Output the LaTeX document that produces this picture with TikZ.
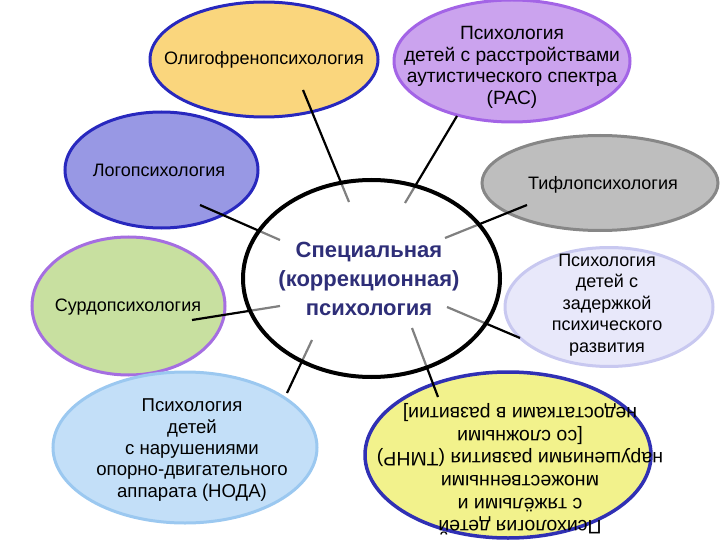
\documentclass[tikz,border=0pt]{standalone}
\usepackage{fontspec}
\setmainfont{Liberation Sans}
\usetikzlibrary{shapes.geometric}

\definecolor{oligfill}{RGB}{250,214,125}
\definecolor{darkblue}{RGB}{40,40,190}
\definecolor{rasfill}{RGB}{203,163,238}
\definecolor{rasline}{RGB}{163,100,230}
\definecolor{logofill}{RGB}{152,152,228}
\definecolor{tiflofill}{RGB}{190,190,190}
\definecolor{tifloline}{RGB}{135,135,135}
\definecolor{zprfill}{RGB}{232,232,250}
\definecolor{zprline}{RGB}{200,200,240}
\definecolor{surdofill}{RGB}{200,224,160}
\definecolor{surdoline}{RGB}{165,110,225}
\definecolor{nodafill}{RGB}{195,223,248}
\definecolor{nodaline}{RGB}{155,200,240}
\definecolor{tmnrfill}{RGB}{242,242,140}
\definecolor{tmnrline}{RGB}{48,48,180}
\definecolor{navy}{RGB}{46,46,120}

\begin{document}
\begin{tikzpicture}[x=1pt,y=-1pt,
    blob/.style={ellipse, inner sep=0pt, line width=3pt},
    txt/.style={align=center, inner sep=0pt, font=\fontsize{18}{21.5}\selectfont},
    link/.style={line width=2.2pt, black}]
  \useasboundingbox (0,0) rectangle (720,540);

  % outer ellipses
  \node[blob, fill=oligfill, draw=darkblue, minimum width=228, minimum height=115] (olig) at (264,59.5) {};
  \node[blob, fill=logofill, draw=darkblue, minimum width=193, minimum height=116] (logo) at (161.5,170) {};
  \node[blob, fill=tiflofill, draw=tifloline, minimum width=236, minimum height=95] (tiflo) at (600,183) {};
  \node[blob, fill=rasfill, draw=rasline, minimum width=236, minimum height=122] (ras) at (512,61) {};
  \node[blob, fill=zprfill, draw=zprline, minimum width=208, minimum height=119] (zpr) at (609,307) {};
  \node[blob, fill=surdofill, draw=surdoline, minimum width=193, minimum height=138] (surdo) at (128.5,306) {};
  \node[blob, fill=nodafill, draw=nodaline, minimum width=264, minimum height=151] (noda) at (185,447.5) {};
  \node[blob, fill=tmnrfill, draw=tmnrline, line width=3.5pt, minimum width=286, minimum height=166] (tmnr) at (508,455) {};

  % spokes: outer end (a) and inner end (b)
  \coordinate (olig-a) at (303,90);   \coordinate (olig-b) at (349,202);
  \coordinate (ras-a) at (457,116);   \coordinate (ras-b) at (405,203);
  \coordinate (logo-a) at (200,205);  \coordinate (logo-b) at (280,240);
  \coordinate (tiflo-a) at (527,205); \coordinate (tiflo-b) at (445,238);
  \coordinate (surdo-a) at (192,320); \coordinate (surdo-b) at (280,306);
  \coordinate (zpr-a) at (520,338);   \coordinate (zpr-b) at (447,307);
  \coordinate (noda-a) at (287,393);  \coordinate (noda-b) at (312,340);
  \coordinate (tmnr-a) at (438,397);  \coordinate (tmnr-b) at (412,328);
  \foreach \n in {olig,ras,logo,tiflo,surdo,zpr,noda,tmnr}
    \draw[link] (\n-a) -- (\n-b);

  % centre ellipse, half see-through so the spokes turn grey inside it
  \node[ellipse, inner sep=0pt, minimum width=257, minimum height=197,
        fill=white, fill opacity=0.5, draw=black, draw opacity=1, line width=4pt] (spec) at (371.5,278.5) {};

  % texts
  \node[txt] (olig-text) at (olig) {Олигофренопсихология};
  \node[txt, font=\fontsize{19.2}{21.7}\selectfont] (ras-text) at (512,67.5) {Психология\\детей с расстройствами\\аутистического спектра\\(РАС)};
  \node[txt] (logo-text) at (159,170) {Логопсихология};
  \node[txt] (tiflo-text) at (603,185) {Тифлопсихология};
  \node[txt] (zpr-text) at (607,305) {Психология\\детей с\\задержкой\\психического\\развития};
  \node[txt] (surdo-text) at (128,307) {Сурдопсихология};
  \node[txt, font=\fontsize{18.6}{21.4}\selectfont] (noda-text) at (192,450) {Психология\\детей\\с нарушениями\\опорно-двигательного\\аппарата (НОДА)};
  \node[txt, rotate=180, font=\fontsize{19.5}{22.6}\selectfont] (tmnr-text) at (520,469.5) {Психология детей\\с тяжёлыми и\\множественными\\нарушениями развития (ТМНР)\\{[со сложными}\\недостатками в развитии]};
  \node[txt, text=navy, font=\fontsize{22}{29}\selectfont\bfseries] (spec-text) at (369,279) {Специальная\\(коррекционная)\\психология};
\end{tikzpicture}
\end{document}
